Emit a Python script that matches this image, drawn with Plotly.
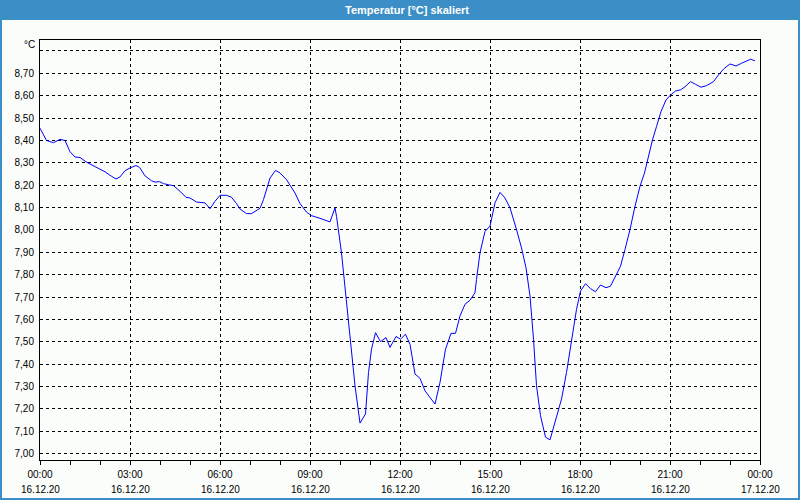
import plotly.graph_objects as go
import pandas as pd

title_text = "Temperatur [°C] skaliert"
unit_label = "°C"
day = "2020-12-16"

times = ["00:00","00:13","00:27","00:40","00:50","01:00","01:10","01:20","01:33","01:53",
         "02:10","02:23","02:32","02:40","02:50","03:00","03:12","03:19","03:30","03:43",
         "03:50","03:59","04:07","04:17","04:27","04:40","04:52","05:00","05:13","05:30",
         "05:40","05:50","06:00","06:13","06:23","06:33","06:40","06:53","07:03","07:20",
         "07:27","07:40","07:51","08:00","08:13","08:30","08:40","08:53","09:03","09:20",
         "09:40","09:50","09:53","10:03","10:13","10:23","10:30","10:40","10:51","10:57",
         "11:03","11:11","11:21","11:32","11:40","11:52","12:01","12:11","12:20","12:30",
         "12:40","12:50","13:00","13:10","13:20","13:31","13:42","13:51","14:00","14:10",
         "14:20","14:30","14:33","14:40","14:50","15:00","15:10","15:20","15:30","15:40",
         "15:53","16:03","16:12","16:20","16:27","16:33","16:41","16:51","17:00","17:10",
         "17:23","17:33","17:43","17:53","18:01","18:11","18:21","18:31","18:41","18:52",
         "19:01","19:12","19:21","19:30","19:40","19:50","20:00","20:09","20:17","20:25",
         "20:33","20:42","20:52","21:01","21:11","21:21","21:30","21:41","21:51","22:02",
         "22:13","22:27","22:37","22:47","23:00","23:12","23:23","23:33","23:41","23:50"]
temps = [8.455,8.400,8.390,8.405,8.400,8.350,8.326,8.324,8.303,8.280,
         8.260,8.240,8.228,8.237,8.265,8.277,8.288,8.280,8.242,8.220,
         8.214,8.216,8.207,8.202,8.198,8.173,8.146,8.143,8.125,8.121,
         8.095,8.128,8.155,8.155,8.146,8.118,8.094,8.073,8.073,8.097,
         8.136,8.232,8.266,8.255,8.225,8.165,8.118,8.080,8.064,8.052,
         8.036,8.099,8.061,7.898,7.675,7.437,7.304,7.137,7.178,7.363,
         7.467,7.541,7.501,7.519,7.475,7.524,7.512,7.534,7.489,7.356,
         7.337,7.281,7.252,7.222,7.319,7.467,7.538,7.538,7.616,7.668,
         7.686,7.720,7.779,7.898,7.994,8.017,8.121,8.168,8.143,8.099,
         8.002,7.920,7.831,7.705,7.512,7.304,7.170,7.074,7.062,7.141,
         7.244,7.363,7.512,7.645,7.727,7.760,7.738,7.724,7.754,7.742,
         7.749,7.800,7.838,7.913,8.002,8.106,8.195,8.255,8.329,8.403,
         8.462,8.529,8.581,8.603,8.621,8.626,8.640,8.663,8.651,8.638,
         8.645,8.663,8.693,8.719,8.742,8.733,8.745,8.755,8.763,8.756]

x_tick_times = ["2020-12-16 00:00","2020-12-16 03:00","2020-12-16 06:00","2020-12-16 09:00",
                "2020-12-16 12:00","2020-12-16 15:00","2020-12-16 18:00","2020-12-16 21:00",
                "2020-12-17 00:00"]
x_tick_labels = ["00:00","03:00","06:00","09:00","12:00","15:00","18:00","21:00","00:00"]
x_date_labels = ["16.12.20","16.12.20","16.12.20","16.12.20","16.12.20",
                 "16.12.20","16.12.20","16.12.20","17.12.20"]
y_tick_vals = [7.0,7.1,7.2,7.3,7.4,7.5,7.6,7.7,7.8,7.9,8.0,8.1,8.2,8.3,8.4,8.5,8.6,8.7,8.8]
y_tick_labels = ["7,00","7,10","7,20","7,30","7,40","7,50","7,60","7,70","7,80","7,90",
                 "8,00","8,10","8,20","8,30","8,40","8,50","8,60","8,70",""]

x = pd.to_datetime([f"{day} {t}" for t in times])
hourly = pd.date_range("2020-12-16 00:00", "2020-12-17 00:00", freq="1h")

BG = "#fbfdfb"
BLUE = "#3c8fc6"
FONT = "Liberation Sans, Arial, sans-serif"

fig = go.Figure()
fig.add_trace(go.Scatter(x=x, y=temps, mode="lines",
                         line=dict(color="#0000ff", width=1), hoverinfo="skip"))

annotations = [
    dict(text=f"<b>{title_text}</b>", xref="paper", yref="paper",
         x=0.5, y=1+30/420, xanchor="center", yanchor="middle", showarrow=False,
         xshift=7, font=dict(family=FONT, size=11, color="white")),
    dict(text=unit_label, xref="paper", yref="paper",
         x=0, y=1-5/420, xanchor="right", yanchor="middle", showarrow=False,
         xshift=-3, font=dict(family=FONT, size=10, color="#000000")),
]
for tv, dl in zip(x_tick_times, x_date_labels):
    annotations.append(dict(text=dl, xref="x", yref="paper", x=tv, y=-29/420,
                            xanchor="center", yanchor="middle", showarrow=False,
                            font=dict(family=FONT, size=10, color="#000000")))

fig.update_layout(
    width=800, height=500,
    margin=dict(l=40, r=40, t=40, b=40, autoexpand=False),
    paper_bgcolor=BG, plot_bgcolor=BG,
    showlegend=False,
    font=dict(family=FONT, size=10, color="#000000"),
    xaxis=dict(
        type="date", automargin=False,
        range=["2020-12-16 00:00", "2020-12-17 00:00"],
        tickmode="array", tickvals=x_tick_times, ticktext=x_tick_labels,
        ticks="outside", ticklen=4, tickcolor="black", tickwidth=1,
        showgrid=True, gridcolor="black", gridwidth=1, griddash="3px,3px",
        showline=True, linecolor="black", linewidth=1, mirror=True,
        zeroline=False, ticklabelstandoff=1,
        minor=dict(tickmode="array", tickvals=list(hourly), ticks="outside",
                   ticklen=4, tickcolor="black", showgrid=False),
        tickfont=dict(family=FONT, size=10, color="#000000"),
    ),
    yaxis=dict(
        automargin=False,
        range=[6.972, 8.849],
        tickmode="array", tickvals=y_tick_vals, ticktext=y_tick_labels,
        ticks="", showgrid=True, gridcolor="black", gridwidth=1, griddash="3px,3px",
        showline=True, linecolor="black", linewidth=1, mirror=True,
        zeroline=False, ticklabelstandoff=3,
        tickfont=dict(family=FONT, size=10, color="#000000"),
    ),
    shapes=[
        dict(type="rect", xref="paper", yref="paper",
             x0=-40/720, x1=1+40/720, y0=1+20/420, y1=1+40/420,
             fillcolor=BLUE, line=dict(width=0), layer="above"),
        dict(type="rect", xref="paper", yref="paper",
             x0=-40/720, x1=-38/720, y0=-40/420, y1=1+40/420,
             fillcolor=BLUE, line=dict(width=0), layer="above"),
        dict(type="rect", xref="paper", yref="paper",
             x0=1+38/720, x1=1+40/720, y0=-40/420, y1=1+40/420,
             fillcolor=BLUE, line=dict(width=0), layer="above"),
        dict(type="rect", xref="paper", yref="paper",
             x0=-40/720, x1=1+40/720, y0=-40/420, y1=-38/420,
             fillcolor=BLUE, line=dict(width=0), layer="above"),
    ],
    annotations=annotations,
)

fig.write_html("out.html")
